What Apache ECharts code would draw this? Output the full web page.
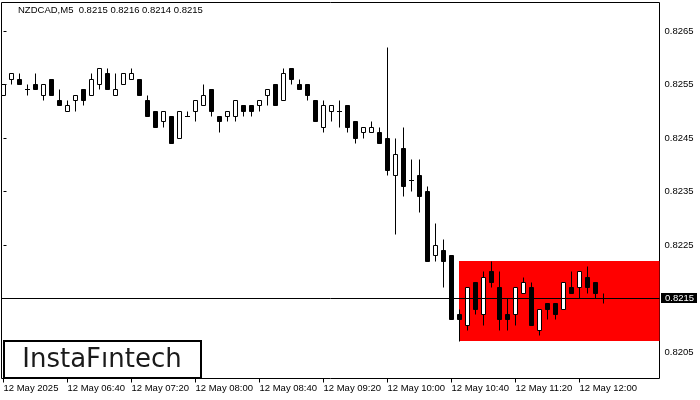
<!DOCTYPE html>
<html><head><meta charset="utf-8">
<script src="https://cdn.jsdelivr.net/npm/echarts@6/dist/echarts.min.js"></script>
<style>html,body{margin:0;padding:0;background:#fff}#c{width:700px;height:400px}</style>
</head><body><div id="c"></div>
<script>
const symbolName = 'NZDCAD,M5';
const lastOHLC = [0.8215, 0.8216, 0.8214, 0.8215];
const openPrices = [
0.8253,0.8256,0.8256,0.8254,0.8255,0.8253,0.8256,0.8252,0.8250,0.8252,
0.8254,0.8253,0.8255,0.8257,0.8253,0.8255,0.8256,0.8256,0.8252,0.8250,
0.8248,0.8249,0.8245,0.8249,0.8250,0.8251,0.8254,0.8249,0.8249,0.8249,
0.8251,0.8251,0.8251,0.8253,0.8255,0.8252,0.8258,0.8255,0.8255,0.8252,
0.8247,0.8250,0.8250,0.8251,0.8248,0.8246,0.8246,0.8246,0.8245,0.8238,
0.8243,0.8237,0.8238,0.8235,0.8223,0.8224,0.8223,0.8212,0.8210,0.8218,
0.8212,0.8220,0.8217,0.8212,0.8212,0.8216,0.8217,0.8209,0.8214,0.8214,
0.8213,0.8217,0.8217,0.8219,0.8218,0.8215];
const closePrices = [
0.8255,0.8257,0.8255,0.8254,0.8254,0.8255,0.8253,0.8251,0.8251,0.8253,
0.8252,0.8256,0.8258,0.8254,0.8254,0.8257,0.8257,0.8253,0.8249,0.8247,
0.8250,0.8244,0.8250,0.8249,0.8252,0.8253,0.8250,0.8248,0.8250,0.8252,
0.8250,0.8250,0.8252,0.8254,0.8251,0.8257,0.8256,0.8254,0.8253,0.8248,
0.8251,0.8251,0.8250,0.8247,0.8245,0.8247,0.8247,0.8244,0.8239,0.8242,
0.8236,0.8237,0.8234,0.8222,0.8225,0.8222,0.8211,0.8211,0.8217,0.8213,
0.8219,0.8218,0.8211,0.8211,0.8217,0.8218,0.8210,0.8213,0.8213,0.8212,
0.8218,0.8216,0.8220,0.8217,0.8216,0.8215];
const highPrices = [
0.8255,0.8257,0.8257,0.8255,0.8257,0.8255,0.8256,0.8254,0.8252,0.8253,
0.8254,0.8257,0.8258,0.8258,0.8257,0.8257,0.8258,0.8256,0.8253,0.8250,
0.8250,0.8249,0.8250,0.8250,0.8252,0.8255,0.8254,0.8249,0.8250,0.8252,
0.8251,0.8251,0.8252,0.8254,0.8255,0.8258,0.8258,0.8256,0.8255,0.8252,
0.8252,0.8251,0.8252,0.8251,0.8248,0.8247,0.8248,0.8247,0.8262,0.8245,
0.8247,0.8241,0.8241,0.8236,0.8229,0.8226,0.8223,0.8213,0.8217,0.8218,
0.8220,0.8222,0.8220,0.8215,0.8217,0.8219,0.8218,0.8213,0.8214,0.8214,
0.8218,0.8220,0.8220,0.8221,0.8218,0.8216];
const lowPrices = [
0.8253,0.8255,0.8255,0.8253,0.8254,0.8252,0.8253,0.8251,0.8250,0.8250,
0.8251,0.8253,0.8254,0.8254,0.8253,0.8255,0.8256,0.8253,0.8249,0.8247,
0.8247,0.8244,0.8245,0.8249,0.8248,0.8251,0.8249,0.8246,0.8248,0.8248,
0.8249,0.8249,0.8250,0.8251,0.8251,0.8252,0.8255,0.8254,0.8252,0.8248,
0.8246,0.8248,0.8247,0.8246,0.8244,0.8245,0.8246,0.8244,0.8238,0.8227,
0.8234,0.8235,0.8231,0.8222,0.8222,0.8217,0.8211,0.8207,0.8209,0.8212,
0.8210,0.8217,0.8209,0.8209,0.8210,0.8216,0.8210,0.8208,0.8211,0.8211,
0.8213,0.8216,0.8215,0.8216,0.8215,0.8214];
const timeTickBars = [0, 8, 16, 24, 32, 40, 48, 56, 64, 72];
const timeTickLabels = ['12 May 2025','12 May 06:40','12 May 07:20','12 May 08:00','12 May 08:40',
  '12 May 09:20','12 May 10:00','12 May 10:40','12 May 11:20','12 May 12:00'];
const priceTicks = [0.8205, 0.8215, 0.8225, 0.8235, 0.8245, 0.8255, 0.8265];
const currentPrice = 0.8215;
const zoneStartBar = 57;
const zoneTop = 0.8222;
const zoneBottom = 0.8207;
const logoText = 'InstaFıntech';

const chart = echarts.init(document.getElementById('c'), null, {renderer: 'canvas'});
const FONT = 'Liberation Sans, Arial, sans-serif';
const candleData = openPrices.map((o, i) => [i, o, closePrices[i], lowPrices[i], highPrices[i]]);
const snap = v => Math.floor(v) + 0.5;

chart.setOption({
  animation: false,
  backgroundColor: '#fff',
  grid: {left: 1.5, top: 2.5, right: 40.5, bottom: 21.5, show: true, borderColor: '#000', borderWidth: 1, backgroundColor: '#fff'},
  xAxis: {
    type: 'value', min: -0.25, max: 82,
    axisLine: {show: false}, splitLine: {show: false},
    axisTick: {show: true, customValues: timeTickBars, length: 4, lineStyle: {color: '#000', width: 1}},
    axisLabel: {customValues: timeTickBars, formatter: v => timeTickLabels[timeTickBars.indexOf(v)] || '',
      align: 'left', margin: 5, color: '#000', fontSize: 9.5, fontFamily: FONT}
  },
  yAxis: {
    type: 'value', position: 'right', min: 0.820005, max: 0.827033, scale: true,
    axisLine: {show: false}, splitLine: {show: false},
    axisTick: {show: true, customValues: priceTicks, length: 3, lineStyle: {color: '#000', width: 1}},
    axisLabel: {customValues: priceTicks, formatter: v => Math.abs(v - currentPrice) < 1e-9 ? '' : v.toFixed(4),
      margin: 5, color: '#000', fontSize: 9.5, fontFamily: FONT}
  },
  graphic: [
    {type: 'text', left: 18, top: 5, z: 100,
      style: {text: symbolName + '  ' + lastOHLC.map(v => v.toFixed(4)).join(' '), fill: '#000', font: '9.5px ' + FONT}},
    {type: 'rect', z: 100, shape: {x: 4, y: 341, width: 197, height: 37},
      style: {fill: '#fff', stroke: '#000', lineWidth: 2}},
    {type: 'text', z: 101, x: 102, y: 360.5,
      style: {text: logoText, fill: '#1a1a1a', font: '26px "DejaVu Sans", sans-serif', textAlign: 'center', textVerticalAlign: 'middle'}}
  ],
  series: [
    {
      type: 'custom', z: 1, silent: true, clip: true,
      data: [[zoneStartBar, zoneTop, zoneBottom]],
      renderItem: function (params, api) {
        const p1 = api.coord([api.value(0), api.value(1)]);
        const p2 = api.coord([api.value(0), api.value(2)]);
        const right = params.coordSys.x + params.coordSys.width;
        return {type: 'rect', shape: {x: Math.floor(p1[0]), y: Math.round(p1[1]), width: right - Math.floor(p1[0]), height: Math.round(p2[1]) - Math.round(p1[1])},
          style: {fill: '#ff0000'}};
      }
    },
    {
      type: 'custom', z: 2, silent: true, clip: true,
      data: candleData,
      encode: {x: 0, y: [1, 2, 3, 4]},
      renderItem: function (params, api) {
        const i = api.value(0), o = api.value(1), c = api.value(2), l = api.value(3), h = api.value(4);
        const pO = api.coord([i, o]), pC = api.coord([i, c]), pL = api.coord([i, l]), pH = api.coord([i, h]);
        const x = snap(pO[0]);
        const children = [{type: 'line', shape: {x1: x, y1: snap(pH[1]), x2: x, y2: snap(pL[1])}, style: {stroke: '#000', lineWidth: 1}}];
        const yO = snap(pO[1]), yC = snap(pC[1]);
        if (Math.abs(o - c) < 1e-9) {
          children.push({type: 'line', shape: {x1: x - 2.5, y1: yO, x2: x + 2.5, y2: yO}, style: {stroke: '#000', lineWidth: 1}});
        } else {
          const top = Math.min(yO, yC), bot = Math.max(yO, yC);
          children.push({type: 'rect', shape: {x: x - 2, y: top, width: 4, height: bot - top},
            style: {fill: c > o ? '#fff' : '#000', stroke: '#000', lineWidth: 1}});
        }
        return {type: 'group', children: children};
      }
    },
    {
      type: 'custom', z: 5, silent: true, clip: false,
      data: [[lastOHLC.length - 1, currentPrice]],
      encode: {y: 1},
      renderItem: function (params, api) {
        const cs = params.coordSys;
        const y = snap(api.coord([0, api.value(1)])[1]);
        const right = cs.x + cs.width;
        return {type: 'group', children: [
          {type: 'line', shape: {x1: cs.x, y1: y, x2: right, y2: y}, style: {stroke: '#000', lineWidth: 1}},
          {type: 'rect', shape: {x: right + 1.5, y: y - 5.5, width: 36, height: 10}, style: {fill: '#000'}},
          {type: 'text', x: right + 5.5, y: y, style: {text: api.value(1).toFixed(4), fill: '#fff',
            font: '9.5px ' + FONT, textAlign: 'left', textVerticalAlign: 'middle'}}
        ]};
      }
    }
  ]
});
</script></body></html>
